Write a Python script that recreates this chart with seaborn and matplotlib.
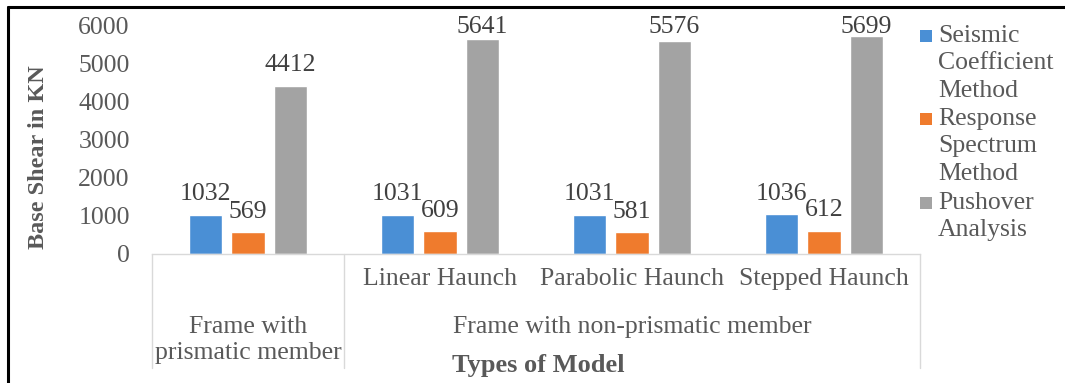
import matplotlib
matplotlib.use("Agg")
import matplotlib.pyplot as plt
import matplotlib.transforms as mtransforms
import matplotlib.patheffects as pe
from matplotlib.lines import Line2D
from matplotlib.patches import Rectangle
import pandas as pd
import seaborn as sns

# Base shear results (kN) per frame model and analysis method
models = ["Frame with prismatic member", "Linear Haunch", "Parabolic Haunch", "Stepped Haunch"]
sub_labels = ["", "Linear Haunch", "Parabolic Haunch", "Stepped Haunch"]
methods = ["Seismic Coefficient Method", "Response Spectrum Method", "Pushover Analysis"]
legend_lines = [["Seismic", "Coefficient", "Method"],
                ["Response", "Spectrum", "Method"],
                ["Pushover", "Analysis"]]
seismic = [1032, 1031, 1031, 1036]
response = [569, 609, 581, 612]
pushover = [4412, 5641, 5576, 5699]
y_ticks = [0, 1000, 2000, 3000, 4000, 5000, 6000]
colors = ["#4a8fd5", "#ef7b2d", "#a3a3a3"]

df = pd.DataFrame({
    "model": models * 3,
    "method": [methods[0]] * 4 + [methods[1]] * 4 + [methods[2]] * 4,
    "value": seismic + response + pushover,
})

sns.set_theme(style="white")
plt.rcParams["font.family"] = ["Liberation Serif", "DejaVu Serif"]

W, H = 1065, 383
FS = 18.5
TXT = "#595959"


def fy(px):
    """Figure fraction for a pixel row counted from the top."""
    return 1 - px / H


fig = plt.figure(figsize=(W / 100, H / 100), dpi=100)
fig.patch.set_facecolor("white")
ax = fig.add_axes([152 / W, fy(254), 768 / W, 229 / H])

sns.barplot(data=df, x="model", y="value", hue="method", order=models,
            hue_order=methods, palette=colors, saturation=1, width=0.664,
            gap=0.223, errorbar=None, legend=False, ax=ax)

ax.set_xlim(-0.5, 3.5)
ax.set_ylim(0, 6000)
top = ax.get_ylim()[1]

shadow = [pe.SimplePatchShadow(offset=(1.0, -1.0), shadow_rgbFace="#808080", alpha=0.25),
          pe.Normal()]
for cont in ax.containers:
    for rect, val in zip(cont, cont.datavalues):
        rect.set_path_effects(shadow)
        cx = rect.get_x() + rect.get_width() / 2
        if val > 0.9 * top:
            # keep labels of the tallest bars inside the plot area
            ax.annotate(f"{val:.0f}", (cx, top), xytext=(0, -5.8), textcoords="offset points",
                        ha="center", va="baseline", fontsize=FS, color="#404040",
                        annotation_clip=False)
        else:
            ax.annotate(f"{val:.0f}", (cx, val), xytext=(0, 10.2), textcoords="offset points",
                        ha="center", va="baseline", fontsize=FS, color="#404040")

ax.set_yticks(y_ticks)
ax.set_yticklabels([str(t) for t in y_ticks])
ax.set_xticks(range(len(models)))
ax.set_xticklabels(sub_labels)
ax.tick_params(axis="y", length=0, pad=16, labelsize=FS, labelcolor=TXT)
ax.tick_params(axis="x", length=0, pad=10, labelsize=FS, labelcolor=TXT)
ax.set_xlabel("")
ax.set_ylabel("")
for side in ["top", "right", "left"]:
    ax.spines[side].set_visible(False)
ax.spines["bottom"].set_color("#d9d9d9")
ax.spines["bottom"].set_linewidth(1.0)
ax.grid(False)

# multi-level category axis: separators and outer group labels
trans = mtransforms.blended_transform_factory(ax.transData, ax.transAxes)
y_end = (254 - 368) / 229
for x in [-0.5, 0.5, 3.5]:
    ax.plot([x, x], [0, y_end], color="#d9d9d9", lw=1.0, transform=trans, clip_on=False)
ax.text(0, (254 - 333) / 229, "Frame with", transform=trans, ha="center",
        va="baseline", fontsize=FS, color=TXT)
ax.text(0, (254 - 359) / 229, "prismatic member", transform=trans, ha="center",
        va="baseline", fontsize=FS, color=TXT)
ax.text(2, (254 - 333) / 229, "Frame with non-prismatic member", transform=trans,
        ha="center", va="baseline", fontsize=FS, color=TXT)

fig.text(538 / W, fy(372), "Types of Model", ha="center", va="baseline",
         fontsize=19, fontweight="bold", color=TXT)
fig.text(39 / W, fy(157), "Base Shear in KN", ha="center", va="center",
         rotation=90, fontsize=17.5, fontweight="bold", color=TXT)

# legend: square markers with wrapped labels
for lines, color, base in zip(legend_lines, colors, [42, 125, 209]):
    fig.add_artist(Rectangle((920 / W, fy(base)), 12 / W, 12 / H,
                             transform=fig.transFigure, facecolor=color, edgecolor="none"))
    for i, line in enumerate(lines):
        fig.text(938 / W, fy(base + i * 27.3), line, ha="left", va="baseline",
                 fontsize=FS, color=TXT)

# page frame lines
fig.add_artist(Line2D([8 / W, 1], [fy(7), fy(7)], color="black", lw=2.2,
                      transform=fig.transFigure))
fig.add_artist(Line2D([8 / W, 8 / W], [0, fy(7)], color="black", lw=2.2,
                      transform=fig.transFigure))

fig.savefig("out.png", dpi=100)
